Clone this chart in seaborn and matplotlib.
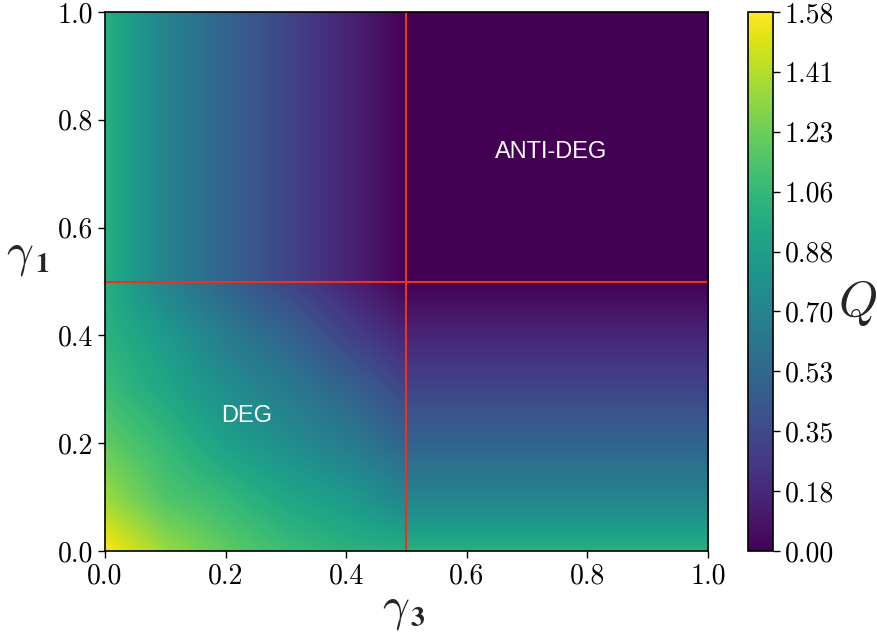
import numpy as np
import matplotlib
matplotlib.use("Agg")
import matplotlib.pyplot as plt
import seaborn as sns

# ---- data ----
gamma_grid = [0.0, 0.1, 0.2, 0.3, 0.4, 0.5, 0.6, 0.7, 0.8, 0.9, 1.0]
# Q along the one-sided regions (depends on a single gamma), gamma = 0..0.5
q_edge = [1.00, 0.71, 0.51, 0.33, 0.16, 0.00]
# Q in the degradable region, rows gamma1 = 0..0.5, cols gamma3 = 0..0.5
q_deg = [
    [1.585, 1.35, 1.20, 1.09, 1.02, 1.00],
    [1.35, 1.15, 1.06, 0.94, 0.86, 0.71],
    [1.20, 1.06, 0.90, 0.785, 0.66, 0.51],
    [1.09, 0.94, 0.785, 0.65, 0.515, 0.33],
    [1.02, 0.86, 0.66, 0.515, 0.32, 0.16],
    [1.00, 0.71, 0.51, 0.33, 0.16, 0.00],
]
q_max = np.log2(3)
axis_ticks = [0.0, 0.2, 0.4, 0.6, 0.8, 1.0]
region_labels = ["DEG", "ANTI-DEG"]
region_pos = [(0.235, 0.25), (0.74, 0.74)]

# ---- build the table ----
n = len(gamma_grid)
Q = np.zeros((n, n))
for i in range(n):
    for j in range(n):
        if i <= 5 and j <= 5:
            Q[i, j] = q_deg[i][j]
        elif i > 5 and j <= 5:
            Q[i, j] = q_edge[j]
        elif i <= 5 and j > 5:
            Q[i, j] = q_edge[i]
        else:
            Q[i, j] = 0.0

sns.set_style("ticks")
plt.rcParams["font.family"] = "serif"
plt.rcParams["font.serif"] = ["cmr10"]
plt.rcParams["mathtext.fontset"] = "cm"
plt.rcParams["axes.formatter.use_mathtext"] = True
plt.rcParams["axes.edgecolor"] = "black"
plt.rcParams["xtick.color"] = "black"
plt.rcParams["ytick.color"] = "black"

cmap = sns.color_palette("viridis", as_cmap=True)

fig = plt.figure(figsize=(8.77, 6.42), dpi=100)
ax = fig.add_axes([0.1197, 0.1417, 0.6876, 0.8396])
cax = fig.add_axes([0.853, 0.1417, 0.0285, 0.8396])

step = gamma_grid[1] - gamma_grid[0]
im = ax.imshow(Q, origin="lower", cmap=cmap, vmin=0, vmax=q_max,
               interpolation="bilinear", aspect="auto",
               extent=[gamma_grid[0] - step / 2, gamma_grid[-1] + step / 2,
                       gamma_grid[0] - step / 2, gamma_grid[-1] + step / 2])
ax.set_xlim(0, 1)
ax.set_ylim(0, 1)

ax.axvline(0.5, color="#f0301a", lw=1.5)
ax.axhline(0.5, color="#f0301a", lw=1.5)

for lab, (x, y) in zip(region_labels, region_pos):
    ax.text(x, y, lab, color="white", fontsize=17, ha="center", va="center",
            family="Liberation Sans")

ax.set_xticks(axis_ticks)
ax.set_yticks(axis_ticks)
ax.set_xticklabels([f"{t:.1f}" for t in axis_ticks])
ax.set_yticklabels([f"{t:.1f}" for t in axis_ticks])
ax.tick_params(labelsize=20, length=5, width=1)
for s in ax.spines.values():
    s.set_linewidth(1.2)


def gamma_label(xc, yb, sub):
    """gamma (Computer Modern) followed by a bold subscript digit."""
    t = fig.text(xc / 877, 1 - yb / 642, r"$\gamma$", fontsize=34,
                 ha="right", va="baseline")
    fig.text((xc + 1) / 877, 1 - (yb + 6) / 642, sub, fontsize=20,
             family="STIXGeneral", weight="bold", ha="left", va="baseline")
    return t


gamma_label(410, 620, "3")   # x axis label (gamma_3)
gamma_label(34, 266, "1")    # y axis label (gamma_1)

cb = fig.colorbar(im, cax=cax)
cb_ticks = np.linspace(0, q_max, 10)
cb.set_ticks(cb_ticks)
cb.set_ticklabels([f"{t:.2f}" for t in cb_ticks])
cb.ax.tick_params(labelsize=20, length=5, width=1)
cb.outline.set_linewidth(1.2)
fig.text(858 / 877, 1 - 303 / 642, r"$Q$", fontsize=36, ha="center",
         va="center")

fig.savefig("out.png", dpi=100)
